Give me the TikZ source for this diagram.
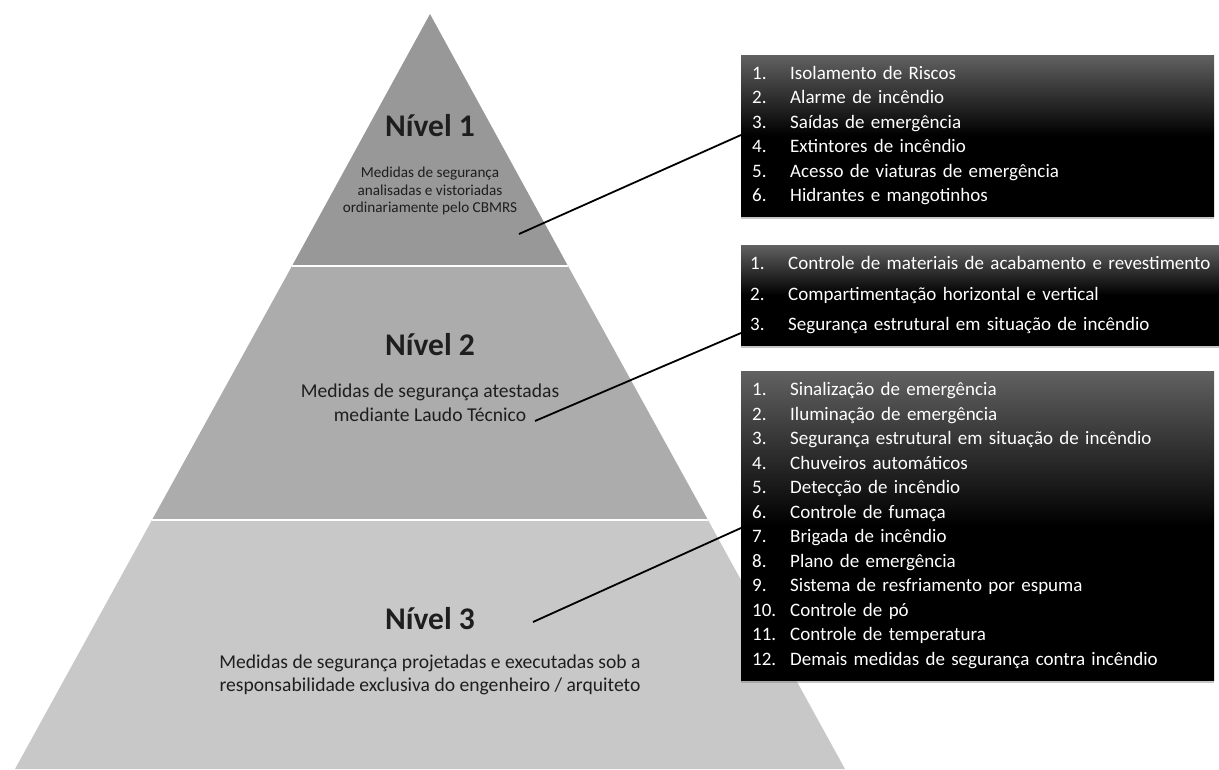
\documentclass[tikz,border=0pt]{standalone}
\usepackage{fontspec}
\setmainfont{Carlito}
\usetikzlibrary{shadows}
\definecolor{bandA}{RGB}{152,152,152}
\definecolor{bandB}{RGB}{172,172,172}
\definecolor{bandC}{RGB}{200,200,200}
\definecolor{txt}{RGB}{30,30,30}
\newcommand{\itm}[2]{\makebox[38pt][l]{#1}#2}
\begin{document}
\begin{tikzpicture}[x=1pt,y=-1pt,
  title/.style={font=\bfseries\fontsize{31.5}{36}\selectfont, text=txt, anchor=base, inner sep=0pt},
  subsmall/.style={font=\fontsize{15.2}{17.8}\selectfont, text=txt, align=center, inner sep=0pt},
  sublarge/.style={font=\fontsize{19.6}{23.5}\selectfont, text=txt, align=center, inner sep=0pt},
  listbox/.style={anchor=north west, text=white, align=left, inner xsep=11pt, inner ysep=0pt,
    font=\fontsize{19}{24.5}\selectfont,
    top color=black!62, bottom color=black, middle color=black,
    drop shadow={opacity=0.45, shadow xshift=0pt, shadow yshift=-3pt}},
  connector/.style={draw=black, line width=1.8pt},
  sep/.style={draw=white, line width=2pt}
]
\useasboundingbox (0,0) rectangle (1219,769);
% pyramid bands
\fill[bandA] (430,14) -- (568,266) -- (292,266) -- cycle;
\fill[bandB] (292,266) -- (568,266) -- (708,520) -- (152,520) -- cycle;
\fill[bandC] (152,520) -- (708,520) -- (845,769) -- (15,769) -- cycle;
\draw[sep] (292,266) -- (568,266);
\draw[sep] (152,520) -- (708,520);
% level texts
\node[title] (n1) at (430,136) {Nível 1};
\node[subsmall] (d1) at (430,191) {Medidas de segurança\\analisadas e vistoriadas\\ordinariamente pelo CBMRS};
\node[title] (n2) at (430,355) {Nível 2};
\node[sublarge] (d2) at (430,403) {Medidas de segurança atestadas\\mediante Laudo Técnico};
\node[title] (n3) at (430,629) {Nível 3};
\node[sublarge] (d3) at (430,675) {Medidas de segurança projetadas e executadas sob a\\responsabilidade exclusiva do engenheiro / arquiteto};
% list boxes
\node[listbox, minimum width=473pt, minimum height=161pt, text width=451pt] (b1) at (741,55)
 {\itm{1.}{Isolamento de Riscos}\\\itm{2.}{Alarme de incêndio}\\\itm{3.}{Saídas de emergência}\\\itm{4.}{Extintores de incêndio}\\\itm{5.}{Acesso de viaturas de emergência}\\\itm{6.}{Hidrantes e mangotinhos}};
\node[listbox, minimum width=481pt, minimum height=100pt, text width=463pt, inner xsep=9pt,
  font=\fontsize{19}{30.5}\selectfont] (b2) at (741,245)
 {\itm{1.}{Controle de materiais de acabamento e revestimento}\\\itm{2.}{Compartimentação horizontal e vertical}\\\itm{3.}{Segurança estrutural em situação de incêndio}};
\node[listbox, minimum width=473pt, minimum height=309pt, text width=451pt] (b3) at (741,371)
 {\itm{1.}{Sinalização de emergência}\\\itm{2.}{Iluminação de emergência}\\\itm{3.}{Segurança estrutural em situação de incêndio}\\\itm{4.}{Chuveiros automáticos}\\\itm{5.}{Detecção de incêndio}\\\itm{6.}{Controle de fumaça}\\\itm{7.}{Brigada de incêndio}\\\itm{8.}{Plano de emergência}\\\itm{9.}{Sistema de resfriamento por espuma}\\\itm{10.}{Controle de pó}\\\itm{11.}{Controle de temperatura}\\\itm{12.}{Demais medidas de segurança contra incêndio}};
% connectors
\coordinate (s1) at (519,234);
\coordinate (s2) at (535,421);
\coordinate (s3) at (533,622);
\draw[connector] (s1) -- (b1.west |- 0,135);
\draw[connector] (s2) -- (b2.west |- 0,333);
\draw[connector] (s3) -- (b3.west |- 0,528);
\end{tikzpicture}
\end{document}
